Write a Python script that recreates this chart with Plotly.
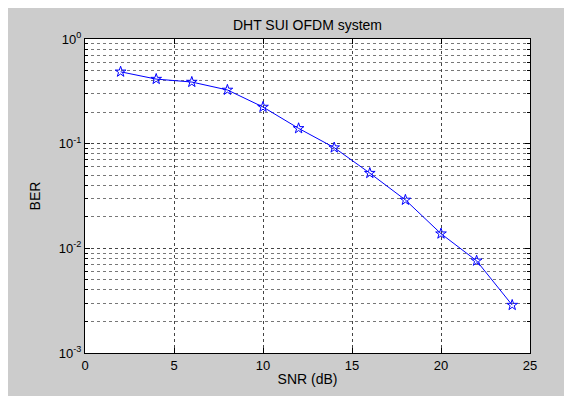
import plotly.graph_objects as go

snr_db = [2, 4, 6, 8, 10, 12, 14, 16, 18, 20, 22, 24]
ber = [0.486, 0.414, 0.388, 0.326, 0.224, 0.140, 0.0917, 0.0523, 0.029, 0.0138, 0.0076, 0.00287]
x_ticks = [0, 5, 10, 15, 20, 25]
y_tickvals = [1e-3, 1e-2, 1e-1, 1]
y_ticktext = ["10<sup>-3</sup>", "10<sup>-2</sup>", "10<sup>-1</sup>", "10<sup>0</sup>"]

font = "Liberation Sans, Arial, sans-serif"
gridc = "#444444"

fig = go.Figure()
fig.add_trace(go.Scatter(
    x=snr_db, y=ber, mode="lines+markers",
    line=dict(color="#0000ff", width=1),
    marker=dict(symbol="star-open", size=8, color="#0000ff", line=dict(width=1, color="#0000ff")),
    showlegend=False,
))

fig.update_layout(
    width=564, height=388,
    margin=dict(l=77, r=42, t=31, b=41),
    paper_bgcolor="#cccccc", plot_bgcolor="white",
    font=dict(family=font, size=13, color="black"),
    title=dict(text="DHT SUI OFDM system", x=0.5, xref="paper", xanchor="center",
               y=1, yref="paper", yanchor="bottom", pad=dict(b=9),
               font=dict(family=font, size=14, color="black")),
)

fig.update_xaxes(
    range=[0, 25], tickvals=x_ticks, ticks="inside", ticklen=5, tickcolor="black",
    showline=True, linecolor="black", linewidth=1, mirror="ticks",
    showgrid=True, gridcolor=gridc, griddash="3px,3px", gridwidth=1,
    zeroline=False,
    title=dict(text="SNR (dB)", standoff=2, font=dict(size=14)),
    tickfont=dict(size=13),
)
fig.update_yaxes(
    type="log", range=[-3, 0], tickvals=y_tickvals, ticktext=y_ticktext,
    ticks="inside", ticklen=5, tickcolor="black",
    showline=True, linecolor="black", linewidth=1, mirror="ticks",
    showgrid=True, gridcolor=gridc, griddash="3px,3px", gridwidth=1,
    minor=dict(dtick="D1", showgrid=True, gridcolor="#777777", griddash="3px,3px",
               ticks="inside", ticklen=3, tickcolor="black"),
    zeroline=False,
    title=dict(text="BER", standoff=14, font=dict(size=14)),
    tickfont=dict(size=13),
)

fig.write_html("out.html")
